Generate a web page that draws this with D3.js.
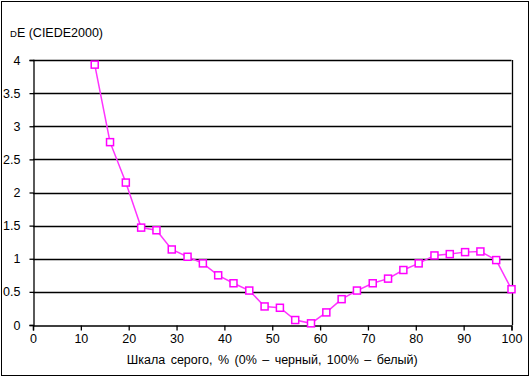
<!DOCTYPE html>
<html>
<head>
<meta charset="utf-8">
<script src="https://cdn.jsdelivr.net/npm/d3@7"></script>
<style>
  body { margin: 0; background: #fff; }
  svg text { font-family: "Liberation Sans", Arial, sans-serif; fill: #000; }
</style>
</head>
<body>
<div id="chart"></div>
<script>
// grey level, % (0 = black, 100 = white)
var grayLevels = [12.9, 16.1, 19.4, 22.6, 25.8, 29.0, 32.3, 35.5, 38.7, 41.9,
  45.2, 48.4, 51.6, 54.8, 58.1, 61.3, 64.5, 67.7, 71.0, 74.2,
  77.4, 80.6, 83.9, 87.1, 90.3, 93.5, 96.8, 100];
// colour difference dE (CIEDE2000)
var deltaE = [3.93, 2.76, 2.15, 1.47, 1.43, 1.14, 1.03, 0.93, 0.75, 0.63,
  0.52, 0.28, 0.26, 0.075, 0.025, 0.19, 0.39, 0.52, 0.63, 0.70,
  0.83, 0.93, 1.05, 1.07, 1.10, 1.11, 0.98, 0.54];
var xTicks = [0, 10, 20, 30, 40, 50, 60, 70, 80, 90, 100];
var yTicks = [0, 0.5, 1, 1.5, 2, 2.5, 3, 3.5, 4];

var width = 531;
var height = 377;
var plotLeft = 33, plotRight = 511.5, plotTop = 60, plotBottom = 325;

var svg = d3.select('#chart')
  .append('svg')
  .attr('width', width)
  .attr('height', height);

// outer frame
svg.append('rect')
  .attr('x', 1.5).attr('y', 1.5)
  .attr('width', 527).attr('height', 374)
  .attr('fill', 'none')
  .attr('stroke', '#000')
  .attr('stroke-width', 1);

var x = d3.scaleLinear().domain([0, 100]).range([plotLeft, plotRight]);
var y = d3.scaleLinear().domain([0, 4]).range([plotBottom, plotTop]);

// horizontal grid
svg.append('g')
  .selectAll('line')
  .data(yTicks.filter(function (d) { return d > 0; }))
  .enter()
  .append('line')
  .attr('x1', plotLeft).attr('x2', plotRight)
  .attr('y1', function (d) { return Math.round(y(d)) + 0.5; })
  .attr('y2', function (d) { return Math.round(y(d)) + 0.5; })
  .attr('stroke', '#000')
  .attr('stroke-width', 1.3);

// right plot border
svg.append('line')
  .attr('x1', Math.round(plotRight) + 0.5).attr('x2', Math.round(plotRight) + 0.5)
  .attr('y1', plotTop).attr('y2', plotBottom)
  .attr('stroke', '#000').attr('stroke-width', 1.3);

var xAxis = svg.append('g')
  .attr('transform', 'translate(0,' + (plotBottom + 0.5) + ')')
  .call(d3.axisBottom(x).tickValues(xTicks).tickSize(5).tickPadding(4).tickFormat(d3.format('d')));

var yAxis = svg.append('g')
  .attr('transform', 'translate(' + (plotLeft + 0.5) + ',0)')
  .call(d3.axisLeft(y).tickValues(yTicks).tickSize(4).tickPadding(9).tickFormat(function (d) { return String(d); }));

[xAxis, yAxis].forEach(function (ax) {
  ax.select('.domain').attr('stroke', '#000').attr('stroke-width', 1.3);
  ax.selectAll('.tick line').attr('stroke', '#000').attr('stroke-width', 1.3);
  ax.selectAll('.tick text').attr('font-size', 12.5).attr('fill', '#000')
    .style('font-family', '"Liberation Sans", Arial, sans-serif');
});

// line
var line = d3.line()
  .x(function (d, i) { return x(grayLevels[i]); })
  .y(function (d) { return y(d); });

svg.append('path')
  .datum(deltaE)
  .attr('d', line)
  .attr('fill', 'none')
  .attr('stroke', '#ff33ff')
  .attr('stroke-width', 1.5);

// markers
svg.append('g')
  .selectAll('rect')
  .data(deltaE)
  .enter()
  .append('rect')
  .attr('x', function (d, i) { return x(grayLevels[i]) - 3.5; })
  .attr('y', function (d) { return y(d) - 3.5; })
  .attr('width', 7)
  .attr('height', 7)
  .attr('fill', '#fff')
  .attr('stroke', '#ff00ff')
  .attr('stroke-width', 1.5);

// titles
var yTitle = svg.append('text')
  .attr('x', 10)
  .attr('y', 37)
  .attr('font-size', 12.5);
yTitle.append('tspan').attr('font-size', 9.5).text('D');
yTitle.append('tspan').text('E (CIEDE2000)');

svg.append('text')
  .attr('x', (plotLeft + plotRight) / 2)
  .attr('y', 364)
  .attr('text-anchor', 'middle')
  .attr('font-size', 12.5)
  .attr('word-spacing', 2)
  .text('Шкала серого, % (0% – черный, 100% – белый)');
</script>
</body>
</html>
